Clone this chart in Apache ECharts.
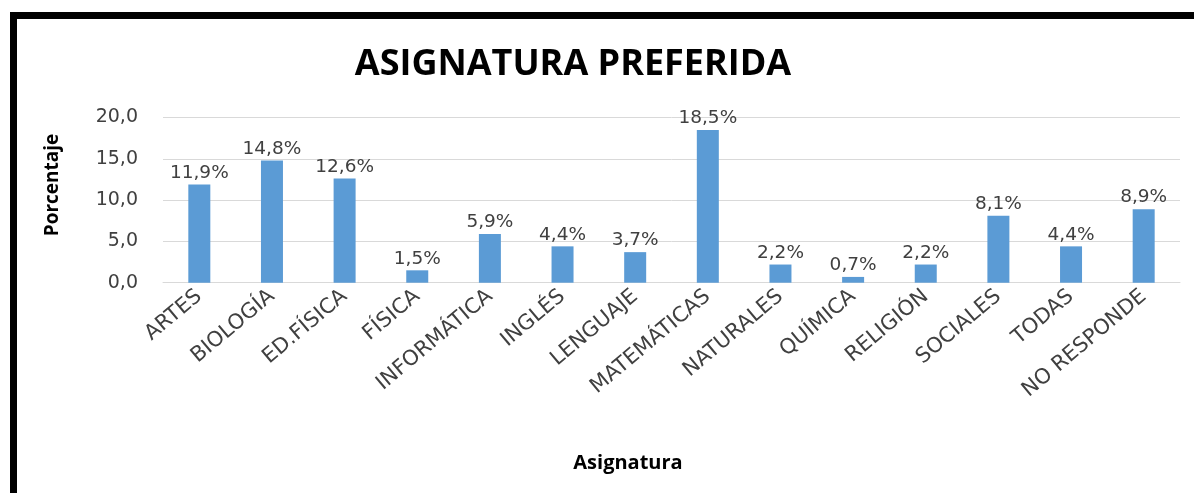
<!DOCTYPE html>
<html>
<head>
<meta charset="utf-8">
<script src="https://cdn.jsdelivr.net/npm/echarts@6/dist/echarts.min.js"></script>
<style>
  html, body { margin: 0; padding: 0; background: #fff; }
  #chart-container { width: 1194px; height: 493px; }
</style>
</head>
<body>
<div id="chart-container"></div>
<script>
const categories = ['ARTES', 'BIOLOGÍA', 'ED.FÍSICA', 'FÍSICA', 'INFORMÁTICA', 'INGLÉS', 'LENGUAJE',
	'MATEMÁTICAS', 'NATURALES', 'QUÍMICA', 'RELIGIÓN', 'SOCIALES', 'TODAS', 'NO RESPONDE'];
const porcentajes = [11.9, 14.8, 12.6, 1.5, 5.9, 4.4, 3.7, 18.5, 2.2, 0.7, 2.2, 8.1, 4.4, 8.9];
const yTicks = { min: 0, max: 20, interval: 5 };

// formato con coma decimal
const coma = v => v.toFixed(1).replace('.', ',');

const myChart = echarts.init(document.getElementById('chart-container'));
const option = {
	backgroundColor: '#fff',
	animation: false,
	title: [
		{
			text: 'ASIGNATURA PREFERIDA',
			left: 568,
			top: 42,
			textAlign: 'center',
			textStyle: { fontFamily: 'Open Sans', fontWeight: 'bold', fontSize: 36, color: '#000' }
		},
		{
			text: 'Asignatura',
			left: 623,
			top: 448,
			textAlign: 'center',
			textStyle: { fontFamily: 'Open Sans', fontWeight: 'bold', fontSize: 20, color: '#000' }
		}
	],
	grid: { left: 163, right: 14, top: 117.5, bottom: 210.3 },
	xAxis: {
		type: 'category',
		data: categories,
		axisLine: { lineStyle: { color: '#d9d9d9', width: 1 } },
		axisTick: { show: false },
		axisLabel: {
			rotate: 40,
			interval: 0,
			margin: 11,
			fontFamily: 'DejaVu Sans',
			fontSize: 21,
			color: '#404040'
		}
	},
	yAxis: {
		type: 'value',
		min: yTicks.min,
		max: yTicks.max,
		interval: yTicks.interval,
		axisLine: { show: false },
		axisTick: { show: false },
		splitLine: { lineStyle: { color: '#d9d9d9', width: 1 } },
		axisLabel: {
			margin: 25,
			formatter: v => coma(v),
			fontFamily: 'DejaVu Sans',
			fontSize: 19,
			color: '#404040'
		}
	},
	series: [{
		name: 'Porcentaje',
		type: 'bar',
		data: porcentajes,
		barWidth: 22,
		itemStyle: { color: '#5b9bd5' },
		label: {
			show: true,
			position: 'top',
			distance: 2,
			formatter: p => coma(p.value) + '%',
			fontFamily: 'DejaVu Sans',
			fontSize: 18.5,
			color: '#404040'
		}
	}],
	graphic: [
		// marco negro recortado (arriba e izquierda)
		{ type: 'rect', shape: { x: 10, y: 12, width: 1184, height: 7 }, style: { fill: '#000' } },
		{ type: 'rect', shape: { x: 10, y: 12, width: 7, height: 481 }, style: { fill: '#000' } },
		// nombre del eje Y
		{
			type: 'text',
			x: 53,
			y: 185,
			rotation: Math.PI / 2,
			style: {
				text: 'Porcentaje',
				fontFamily: 'Open Sans',
				fontWeight: 'bold',
				fontSize: 19,
				fill: '#000',
				align: 'center',
				verticalAlign: 'middle'
			}
		}
	]
};

myChart.setOption(option);
</script>
</body>
</html>
